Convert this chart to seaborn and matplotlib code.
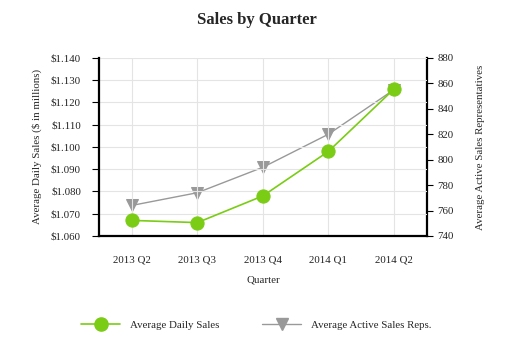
import numpy as np
import pandas as pd
import matplotlib.pyplot as plt
import seaborn as sns
from matplotlib.lines import Line2D

sns.set_theme(style="white")
plt.rcParams['font.family'] = ['Liberation Serif', 'DejaVu Serif']

# Data
quarters = ["2013 Q2", "2013 Q3", "2013 Q4", "2014 Q1", "2014 Q2"]
daily_sales = [1.067, 1.066, 1.078, 1.098, 1.126]
sales_reps = [764, 774, 794, 820, 855]

df = pd.DataFrame({"quarter": quarters, "sales": daily_sales, "reps": sales_reps})
df["pos"] = np.arange(len(quarters))

green = "#7acc14"
grey = "#999999"
fs = 7.8

fig = plt.figure(figsize=(5.13, 3.57), dpi=100)
ax = fig.add_axes([0.193, 0.339, 0.639, 0.499])
ax2 = ax.twinx()

sns.lineplot(data=df, x="pos", y="reps", ax=ax2, color=grey, marker="v",
             markersize=8.5, markeredgecolor=grey, linewidth=1, zorder=2)
sns.lineplot(data=df, x="pos", y="sales", ax=ax, color=green, marker="o",
             markersize=9.5, markeredgecolor=green, linewidth=1.2, zorder=3)

# Put the sales axis on top of the reps axis
ax.set_zorder(ax2.get_zorder() + 1)
ax.patch.set_visible(False)

ax.set_xlim(-0.5, 4.5)
ax.set_ylim(1.060, 1.140)
ax.set_yticks(np.arange(1.060, 1.1401, 0.010))
ax.set_yticklabels([f"${v:.3f}" for v in np.arange(1.060, 1.1401, 0.010)])
ax2.set_ylim(740, 880)
ax2.set_yticks(np.arange(740, 881, 20))

ax.set_xticks(df["pos"])
ax.set_xticklabels(quarters)

ax2.grid(False)
ax.grid(True, color="#e4e4e4", linewidth=0.8)

for a in (ax, ax2):
    for s in a.spines.values():
        s.set_visible(False)
    a.tick_params(length=5, width=0.8, color="black", labelsize=fs,
                  labelcolor="#222222", pad=3)

ax.spines["left"].set_visible(True)
ax.spines["bottom"].set_visible(True)
ax2.spines["right"].set_visible(True)
for s in (ax.spines["left"], ax.spines["bottom"], ax2.spines["right"]):
    s.set_color("black")
    s.set_linewidth(1.6)

ax.tick_params(axis="x", pad=9, length=5)
ax.tick_params(axis="y", left=True, pad=8)
ax2.tick_params(axis="y", right=True, length=4.5, pad=3)

ax.set_xlabel("Quarter", fontsize=fs, labelpad=8)
ax.set_ylabel("Average Daily Sales ($ in millions)", fontsize=fs, labelpad=6)
ax2.set_ylabel("Average Active Sales Representatives", fontsize=fs, labelpad=16)

fig.suptitle("Sales by Quarter", fontsize=12, fontweight="bold", y=0.965)

handles = [
    Line2D([], [], color=green, marker="o", markersize=9.5, linewidth=1.2),
    Line2D([], [], color=grey, marker="v", markersize=8.5, linewidth=1),
]
fig.legend(handles, ["Average Daily Sales", "Average Active Sales Reps."],
           loc="center", bbox_to_anchor=(0.5, 0.09), ncol=2, frameon=False,
           fontsize=fs, handlelength=3.6, columnspacing=3.9, handletextpad=0.95)

fig.savefig("out.png", dpi=100)
